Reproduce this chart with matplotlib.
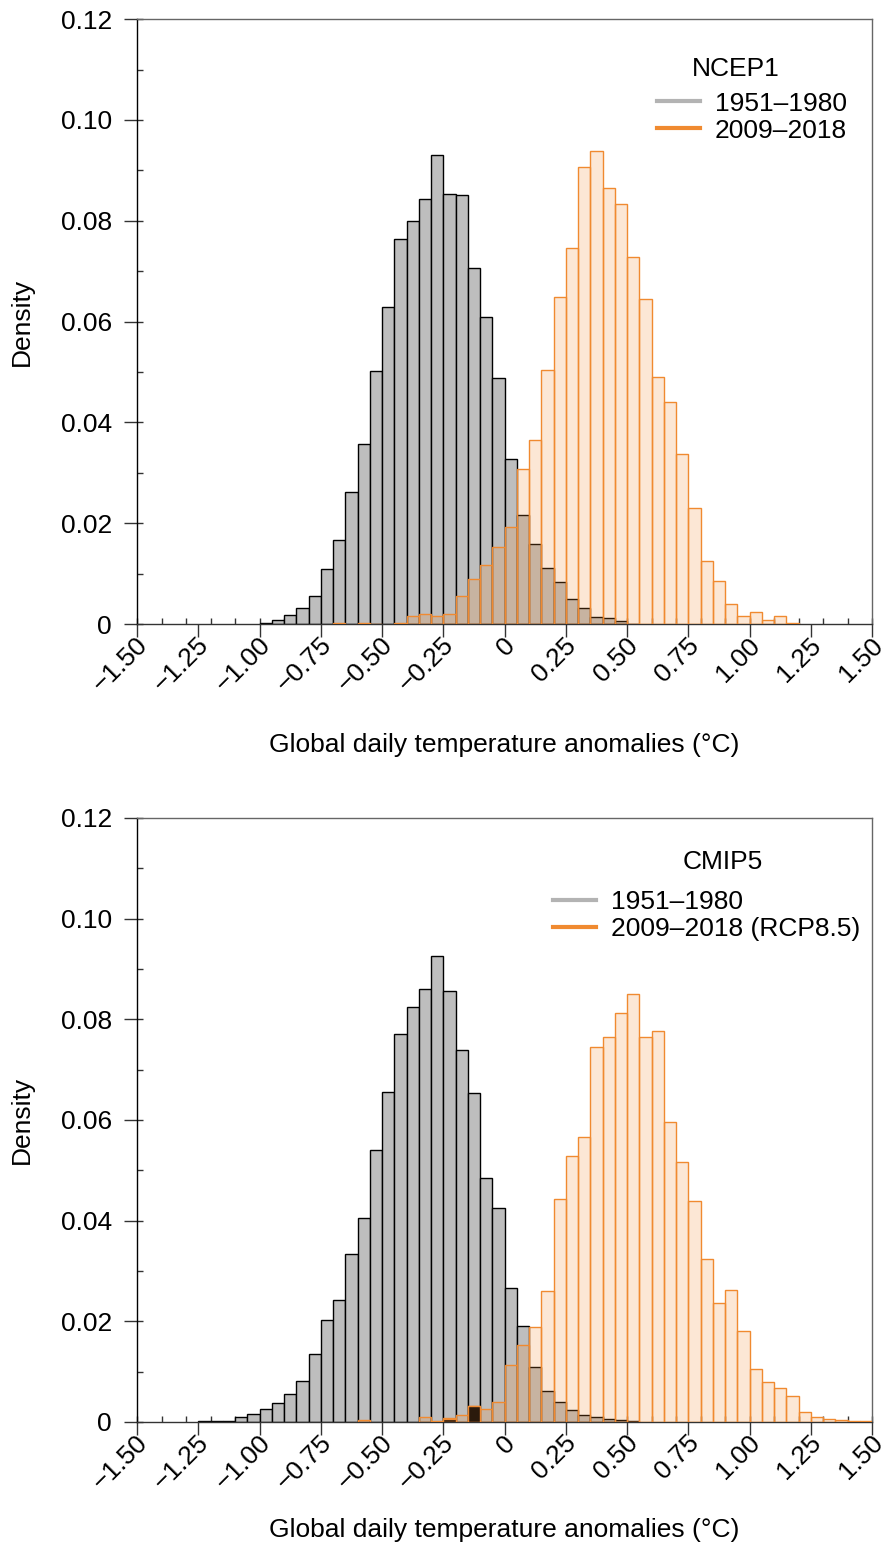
# Histogramas de anomalías diarias de temperatura global (NCEP1 y CMIP5)
import numpy as np
import matplotlib.pyplot as plt
from matplotlib.lines import Line2D
from matplotlib.ticker import MultipleLocator
import matplotlib.transforms as mtransforms

# Bordes de los intervalos: de -1.50 a 1.50 °C con ancho 0.05
bordes = np.round(np.linspace(-1.50, 1.50, 61), 2)
ancho = 0.05

# Densidades (60 intervalos, de izquierda a derecha)
ncep_1951 = [
    0, 0, 0, 0, 0, 0, 0, 0, 0, 0,
    0.0003, 0.0008, 0.0017, 0.0031, 0.0055, 0.0109, 0.0167, 0.0261, 0.0358, 0.0501,
    0.0629, 0.0763, 0.0799, 0.0844, 0.0931, 0.0854, 0.0852, 0.0707, 0.0609, 0.0489,
    0.0328, 0.0217, 0.0159, 0.0112, 0.0083, 0.0050, 0.0031, 0.0014, 0.0012, 0.0006,
    0.0001, 0, 0, 0, 0, 0, 0, 0, 0, 0,
    0, 0, 0, 0, 0, 0, 0, 0, 0, 0,
]
ncep_2009 = [
    0, 0, 0, 0, 0, 0, 0, 0, 0, 0,
    0, 0, 0, 0, 0, 0, 0.0002, 0, 0.0002, 0.0001,
    0, 0.0002, 0.0016, 0.0020, 0.0016, 0.0019, 0.0055, 0.0090, 0.0118, 0.0153,
    0.0192, 0.0308, 0.0366, 0.0504, 0.0649, 0.0745, 0.0906, 0.0939, 0.0865, 0.0833,
    0.0728, 0.0644, 0.0491, 0.0440, 0.0337, 0.0230, 0.0126, 0.0085, 0.0040, 0.0016,
    0.0023, 0.0008, 0.0016, 0.0003, 0, 0, 0, 0, 0, 0,
]
cmip5_1951 = [
    0, 0, 0, 0, 0, 0.0001, 0.0001, 0.0002, 0.0010, 0.0015,
    0.0025, 0.0037, 0.0055, 0.0081, 0.0135, 0.0202, 0.0243, 0.0333, 0.0405, 0.0541,
    0.0656, 0.0770, 0.0824, 0.0860, 0.0925, 0.0857, 0.0738, 0.0653, 0.0485, 0.0425,
    0.0267, 0.0190, 0.0110, 0.0061, 0.0039, 0.0023, 0.0013, 0.0009, 0.0005, 0.0003,
    0.0001, 0, 0, 0, 0, 0, 0, 0, 0, 0,
    0, 0, 0, 0, 0, 0, 0, 0, 0, 0,
]
cmip5_2009 = [
    0, 0, 0, 0, 0, 0, 0, 0, 0, 0,
    0, 0, 0, 0, 0, 0, 0, 0, 0.0003, 0,
    0, 0, 0, 0.0009, 0.0001, 0.0007, 0.0013, 0.0032, 0.0026, 0.0039,
    0.0113, 0.0152, 0.0188, 0.0260, 0.0442, 0.0528, 0.0566, 0.0744, 0.0765, 0.0812,
    0.0851, 0.0765, 0.0776, 0.0596, 0.0517, 0.0439, 0.0323, 0.0237, 0.0263, 0.0181,
    0.0105, 0.0079, 0.0068, 0.0051, 0.0020, 0.0010, 0.0005, 0.0004, 0.0002, 0.0001,
]
# Intervalos que aparecen rellenos de oscuro en el panel CMIP5
cmip5_oscuro = [0] * 25 + [0.0006, 0, 0.0032] + [0] * 32

# Marcas y etiquetas de los ejes
posiciones_x = [-1.50, -1.25, -1.00, -0.75, -0.50, -0.25, 0, 0.25, 0.50, 0.75, 1.00, 1.25, 1.50]
etiquetas_x = ['\u22121.50', '\u22121.25', '\u22121.00', '\u22120.75', '\u22120.50', '\u22120.25',
               '0', '0.25', '0.50', '0.75', '1.00', '1.25', '1.50']
posiciones_y = [0, 0.02, 0.04, 0.06, 0.08, 0.10, 0.12]
etiquetas_y = ['0', '0.02', '0.04', '0.06', '0.08', '0.10', '0.12']

GRIS = '#bebebe'
NARANJA = '#f08a30'
TAM = 19  # tamaño de letra


def dibujar_panel(fig, ax, gris, naranja, titulo, leyendas, pos_titulo, pos_leyenda,
                  y_etiqueta_x, oscuro=None):
    """Dibuja un panel con los dos histogramas superpuestos."""
    izq = bordes[:-1]

    g = np.array(gris)
    m = g > 0
    ax.bar(izq[m], g[m], width=ancho, align='edge', facecolor=GRIS,
           edgecolor='black', linewidth=1.0, zorder=2)

    n = np.array(naranja)
    m = n > 0
    ax.bar(izq[m], n[m], width=ancho, align='edge', facecolor=(0.94, 0.54, 0.19, 0.2),
           edgecolor=NARANJA, linewidth=1.0, zorder=3)

    if oscuro is not None:
        o = np.array(oscuro)
        m = o > 0
        ax.bar(izq[m], o[m], width=ancho, align='edge', facecolor='#2b1a0c',
               edgecolor=NARANJA, linewidth=1.0, zorder=4)

    ax.set_xlim(-1.5, 1.5)
    ax.set_ylim(0, 0.12)

    # Eje x: marcas mayores hacia afuera, menores (cada 0.1) hacia adentro
    ax.set_xticks(posiciones_x)
    ax.set_xticklabels(etiquetas_x, rotation=45, ha='right', va='center',
                       rotation_mode='anchor')
    ax.xaxis.set_minor_locator(MultipleLocator(0.1))
    ax.xaxis.remove_overlapping_locs = False
    ax.tick_params(axis='x', which='major', direction='out', length=9.5, width=1,
                   color='#333333', labelsize=TAM, pad=3)
    ax.tick_params(axis='x', which='minor', direction='in', length=4.2, width=1,
                   color='#333333')
    desplazamiento = mtransforms.ScaledTranslation(7 / 100, 0, fig.dpi_scale_trans)
    for etiqueta in ax.get_xticklabels():
        etiqueta.set_transform(etiqueta.get_transform() + desplazamiento)

    # Eje y
    ax.set_yticks(posiciones_y)
    ax.set_yticklabels(etiquetas_y)
    ax.yaxis.set_minor_locator(MultipleLocator(0.01))
    ax.yaxis.remove_overlapping_locs = False
    ax.tick_params(axis='y', which='major', direction='out', length=9.5, width=1,
                   color='#333333', labelsize=TAM, pad=8.5)
    ax.tick_params(axis='y', which='minor', direction='in', length=4.2, width=1,
                   color='#333333')

    ax.set_xlabel('Global daily temperature anomalies (\u00b0C)', fontsize=TAM)
    ax.xaxis.set_label_coords(0.5, y_etiqueta_x)
    ax.xaxis.label.set_va('center')
    ax.set_ylabel('Density', fontsize=TAM)
    ax.yaxis.set_label_coords(-0.1565, 0.5)
    ax.yaxis.label.set_va('center')

    # Bordes del recuadro
    ax.spines['left'].set_color('black')
    ax.spines['bottom'].set_color('#333333')
    ax.spines['top'].set_color('#666666')
    ax.spines['right'].set_color('#666666')
    for lado in ax.spines.values():
        lado.set_linewidth(1.0)

    # Leyenda (sin marco) y su título encima
    manijas = [Line2D([0], [0], color='#b3b3b3', lw=3),
                Line2D([0], [0], color=NARANJA, lw=3)]
    ax.legend(manijas, leyendas, loc='upper right',
              bbox_to_anchor=pos_leyenda, frameon=False, fontsize=TAM,
              handlelength=1.63, handletextpad=0.57,
              labelspacing=0.11, borderpad=0, borderaxespad=0)
    ax.text(pos_titulo[0], pos_titulo[1], titulo, transform=ax.transAxes,
            ha='center', va='center', fontsize=TAM)


def plot_histogramas():
    plt.rcParams['font.family'] = ['Liberation Sans', 'DejaVu Sans']

    fig = plt.figure(figsize=(8.87, 15.52), dpi=100)
    ax1 = fig.add_axes([0.1545, 0.5979, 0.8286, 0.3898])
    ax2 = fig.add_axes([0.1545, 0.0838, 0.8286, 0.3892])

    dibujar_panel(fig, ax1, ncep_1951, ncep_2009, 'NCEP1',
                  ['1951\u20131980', '2009\u20132018'],
                  (0.815, 0.918), (0.966, 0.880), -0.2)
    dibujar_panel(fig, ax2, cmip5_1951, cmip5_2009, 'CMIP5',
                  ['1951\u20131980', '2009\u20132018 (RCP8.5)'],
                  (0.797, 0.927), (0.984, 0.880), -0.179,
                  oscuro=cmip5_oscuro)

    fig.savefig('out.png', dpi=100)


if __name__ == "__main__":
    plot_histogramas()
